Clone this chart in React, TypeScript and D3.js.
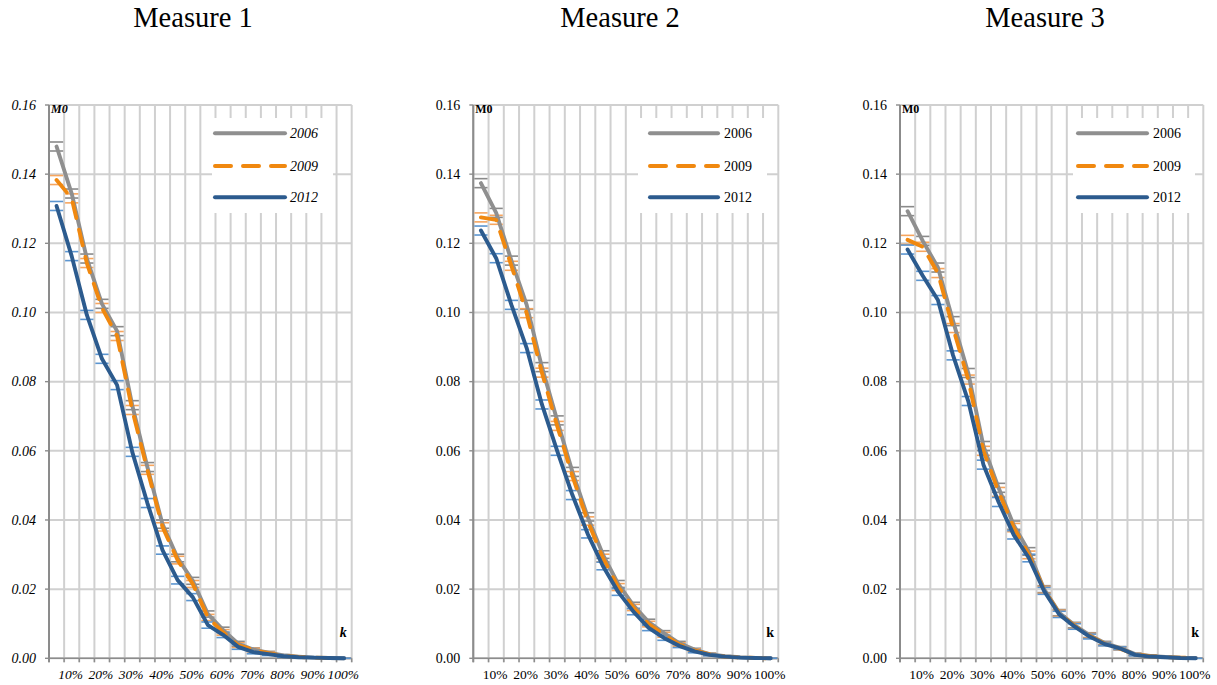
import React from "react";
import * as d3 from "d3";

const kCategories = ["5%","10%","15%","20%","25%","30%","35%","40%","45%","50%","55%","60%","65%","70%","75%","80%","85%","90%","95%","100%"];
const kTickLabels = ["","10%","","20%","","30%","","40%","","50%","","60%","","70%","","80%","","90%","","100%"];
const yTicks = [0, 0.02, 0.04, 0.06, 0.08, 0.1, 0.12, 0.14, 0.16];
const years = ["2006", "2009", "2012"];
const titles = ["Measure 1", "Measure 2", "Measure 3"];

const m1_2006 = [0.148,0.1344,0.1156,0.1025,0.0946,0.0732,0.0553,0.0388,0.029,0.0224,0.0128,0.0082,0.0042,0.0025,0.0016,0.0008,0.0005,0.0002,0.0001,0];
const m1_2009 = [0.1383,0.133,0.1143,0.1013,0.0932,0.0718,0.0545,0.038,0.0284,0.0215,0.0118,0.0075,0.0038,0.0024,0.0015,0.0007,0.0004,0.0002,0.0001,0];
const m1_2012 = [0.1308,0.1163,0.0993,0.0866,0.079,0.0597,0.0449,0.0313,0.0226,0.0177,0.0096,0.0068,0.0033,0.0018,0.0012,0.0006,0.0003,0.0002,0.0001,0];

const m2_2006 = [0.1374,0.1288,0.115,0.1022,0.0842,0.0688,0.0539,0.0409,0.03,0.0215,0.0153,0.0105,0.0073,0.0044,0.0025,0.0012,0.0006,0.0003,0.0001,0];
const m2_2009 = [0.1275,0.1268,0.1135,0.0998,0.0826,0.0672,0.0527,0.0397,0.029,0.0206,0.0147,0.0099,0.0068,0.004,0.0023,0.0011,0.0005,0.0002,0.0001,0];
const m2_2012 = [0.1237,0.1157,0.1022,0.0897,0.0734,0.06,0.0472,0.036,0.0267,0.0192,0.0135,0.0088,0.0059,0.0036,0.002,0.001,0.0005,0.0002,0.0001,0];

const m3_2006 = [0.1293,0.1207,0.113,0.0975,0.0825,0.0614,0.0493,0.0385,0.0309,0.02,0.0132,0.0096,0.0067,0.0044,0.003,0.0012,0.0007,0.0004,0.0002,0.0001];
const m3_2009 = [0.121,0.119,0.1114,0.0955,0.0806,0.06,0.0481,0.0378,0.0299,0.0198,0.013,0.0094,0.0065,0.0042,0.0028,0.0011,0.0006,0.0003,0.0002,0.0001];
const m3_2012 = [0.1182,0.1106,0.1036,0.0876,0.0744,0.056,0.0452,0.0357,0.029,0.0195,0.0127,0.0092,0.0063,0.0041,0.0029,0.001,0.0005,0.0003,0.0001,0];

const errHalf = [0.0013,0.0013,0.0013,0.0013,0.0013,0.0013,0.0013,0.0012,0.0011,0.001,0.0009,0.0008,0.0007,0.0005,0.0004,0.0003,0.0002,0.0001,0.0001,0];

const panelData = [
  [m1_2006, m1_2009, m1_2012],
  [m2_2006, m2_2009, m2_2012],
  [m3_2006, m3_2009, m3_2012],
];

const layout = [
  { left: 49, right: 351.7, titleX: 193, italic: true, legendBox: [212, 333], legendLine: [215, 285], legendText: 290 },
  { left: 473.3, right: 778.3, titleX: 620, italic: false, legendBox: [638, 767], legendLine: [650, 718], legendText: 724 },
  { left: 900, right: 1203.3, titleX: 1045, italic: false, legendBox: [1073, 1195], legendLine: [1078, 1147], legendText: 1153 },
];

const TOP = 105;
const BOTTOM = 658.3;
const lineColors = ["#8f8f8f", "#f0880f", "#2c5b8e"];
const capColors = ["#8a8a8a", "#f6a55e", "#5b95d0"];
const dashes = [null, "16,12", null];
const legendY = [133.3, 166, 197.3];
const FONT = "Liberation Serif";

function Panel({ idx }: { idx: number }) {
  const L = layout[idx];
  const data = panelData[idx];
  const x = d3.scaleBand<string>().domain(kCategories).range([L.left, L.right]).padding(0);
  const y = d3.scaleLinear().domain([0, 0.16]).range([BOTTOM, TOP]);
  const bw = x.bandwidth();
  const cx = (c: string) => (x(c) as number) + bw / 2;
  const fontStyle = L.italic ? "italic" : "normal";
  const line = d3
    .line<number>()
    .x((_, i) => cx(kCategories[i]))
    .y((v) => y(v))
    .curve(d3.curveLinear);
  const bounds = kCategories.map((c) => x(c) as number).concat([L.right]);

  return (
    <g>
      <text x={L.titleX} y={27} textAnchor="middle" style={{ fontFamily: FONT }} fontSize={28.5} fill="#000">
        {titles[idx]}
      </text>
      {yTicks.map((t) => (
        <line key={"h" + t} x1={L.left} x2={L.right} y1={y(t)} y2={y(t)} stroke="#d0d0d0" strokeWidth={2} />
      ))}
      {bounds.map((b, i) => (
        <line key={"v" + i} x1={b} x2={b} y1={TOP} y2={BOTTOM + 4} stroke={i === 0 ? "#8c8c8c" : "#d0d0d0"} strokeWidth={2} />
      ))}
      <line x1={L.left} x2={L.left} y1={TOP} y2={BOTTOM} stroke="#8c8c8c" strokeWidth={1.6} />
      <line x1={L.left} x2={L.right} y1={BOTTOM} y2={BOTTOM} stroke="#8c8c8c" strokeWidth={1.6} />
      {bounds.map((b, i) => (
        <line key={"xt" + i} x1={b} x2={b} y1={BOTTOM} y2={BOTTOM + 4} stroke="#8c8c8c" strokeWidth={1.4} />
      ))}
      {yTicks.map((t) => (
        <line key={"yt" + t} x1={L.left - 4} x2={L.left} y1={y(t)} y2={y(t)} stroke="#8c8c8c" strokeWidth={1.4} />
      ))}
      {yTicks.map((t) => (
        <text
          key={"yl" + t}
          x={L.left - 13}
          y={y(t) + 4.8}
          textAnchor="end"
          style={{ fontFamily: FONT, fontStyle }}
          fontSize={14}
          fill="#000"
        >
          {d3.format(".2f")(t)}
        </text>
      ))}
      {kCategories.map((c, i) =>
        kTickLabels[i] ? (
          <text
            key={"xl" + c}
            x={cx(c) - 1}
            y={679}
            textAnchor="middle"
            style={{ fontFamily: FONT, fontStyle }}
            fontSize={13.5}
            fill="#000"
          >
            {kTickLabels[i]}
          </text>
        ) : null
      )}
      <rect x={L.legendBox[0]} y={118} width={L.legendBox[1] - L.legendBox[0]} height={95} fill="#fff" />
      {data.map((s, si) =>
        s.map((v, i) => {
          const c = cx(kCategories[i]);
          const e = errHalf[i];
          return (
            <g key={"e" + si + "-" + i}>
              <line x1={c - 6.6} x2={c + 6.6} y1={y(v + e)} y2={y(v + e)} stroke={capColors[si]} strokeWidth={1.6} />
              <line x1={c - 6.6} x2={c + 6.6} y1={y(v - e)} y2={y(v - e)} stroke={capColors[si]} strokeWidth={1.6} />
            </g>
          );
        })
      )}
      {data.map((s, si) => (
        <path
          key={"s" + si}
          d={line(s) || ""}
          fill="none"
          stroke={lineColors[si]}
          strokeWidth={3.9}
          strokeLinejoin="round"
          strokeLinecap="round"
          strokeDasharray={dashes[si] || undefined}
        />
      ))}
      {years.map((yr, si) => (
        <g key={"lg" + yr}>
          <line
            x1={L.legendLine[0]}
            x2={L.legendLine[1]}
            y1={legendY[si]}
            y2={legendY[si]}
            stroke={lineColors[si]}
            strokeWidth={4}
            strokeLinecap="round"
            strokeDasharray={dashes[si] || undefined}
          />
          <text x={L.legendText} y={legendY[si] + 4.8} style={{ fontFamily: FONT, fontStyle }} fontSize={14} fill="#000">
            {yr}
          </text>
        </g>
      ))}
      <text x={L.left + 2} y={113} style={{ fontFamily: FONT, fontStyle, fontWeight: "bold" }} fontSize={12} fill="#000">
        M0
      </text>
      <text x={L.right - 12} y={637} style={{ fontFamily: FONT, fontStyle, fontWeight: "bold" }} fontSize={14} fill="#000">
        k
      </text>
    </g>
  );
}

export default function App() {
  return (
    <svg
      width={1217}
      height={685}
      viewBox="0 0 1217 685"
      style={{ position: "absolute", left: 0, top: 0, background: "#fff" }}
    >
      <rect x={0} y={0} width={1217} height={685} fill="#fff" />
      {[0, 1, 2].map((i) => (
        <Panel key={i} idx={i} />
      ))}
    </svg>
  );
}
